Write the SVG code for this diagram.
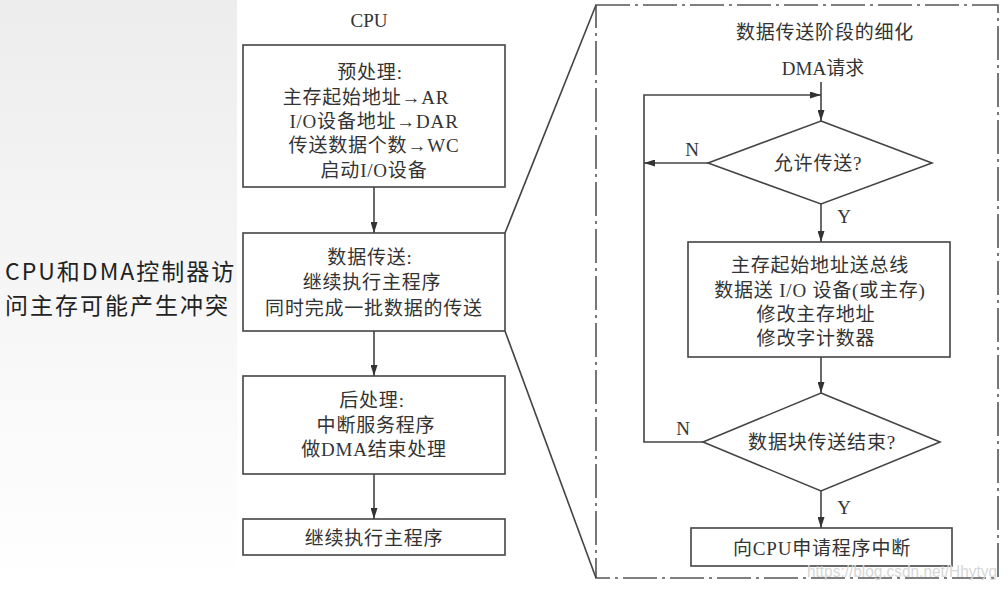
<svg xmlns="http://www.w3.org/2000/svg" width="1008" height="589" viewBox="0 0 1008 589">
<style>
.box{fill:#fff;stroke:#444;stroke-width:1.6}
.ln{fill:none;stroke:#444;stroke-width:1.6}
.t{font-family:"Liberation Serif","Noto Sans CJK SC",serif;font-size:19px;fill:#333;text-anchor:middle;letter-spacing:0.8px}
.lbl{font-family:"Liberation Serif","Noto Sans CJK SC",serif;font-size:19px;fill:#333;text-anchor:middle}
.side{font-family:"Noto Sans CJK SC","Noto Sans",sans-serif;font-size:23px;fill:#222;letter-spacing:2px}
</style>
<defs>
<linearGradient id="bg" x1="0" y1="0" x2="0" y2="1">
<stop offset="0" stop-color="#ededed"/>
<stop offset="1" stop-color="#ffffff"/>
</linearGradient>
<marker id="ah" markerUnits="userSpaceOnUse" markerWidth="11" markerHeight="7" refX="11" refY="3.5" orient="auto">
<path d="M0,0 L11,3.5 L0,7 z" fill="#333"/>
</marker>
</defs>
<rect x="0" y="0" width="1008" height="589" fill="#fff"/>
<rect x="0" y="0" width="237" height="589" fill="url(#bg)"/>

<g id="side-note">
<text class="side" x="5" y="280">CPU和DMA控制器访</text>
<text class="side" x="5" y="314">问主存可能产生冲突</text>
</g>

<g id="cpu-title"><text class="lbl" x="369" y="27">CPU</text></g>

<g id="pre">
<rect class="box" x="243" y="45" width="262" height="142"/>
<text class="t" x="370" y="79">预处理:</text>
<text class="t" x="366" y="104">主存起始地址→AR</text>
<text class="t" x="374" y="128">I/O设备地址→DAR</text>
<text class="t" x="374" y="152">传送数据个数→WC</text>
<text class="t" x="374" y="177">启动I/O设备</text>
</g>

<g id="transfer">
<rect class="box" x="243" y="233" width="262" height="98"/>
<text class="t" x="370" y="264">数据传送:</text>
<text class="t" x="372" y="289">继续执行主程序</text>
<text class="t" x="374" y="315">同时完成一批数据的传送</text>
</g>

<g id="post">
<rect class="box" x="243" y="376" width="262" height="98"/>
<text class="t" x="372" y="407">后处理:</text>
<text class="t" x="376" y="432">中断服务程序</text>
<text class="t" x="374" y="456">做DMA结束处理</text>
</g>

<g id="continue">
<rect class="box" x="243" y="519" width="262" height="36"/>
<text class="t" x="374" y="545">继续执行主程序</text>
</g>

<g id="detail-frame">
<rect x="596" y="5" width="402" height="573" fill="none" stroke="#555" stroke-width="1.6" stroke-dasharray="34 5 3 5"/>
<text class="t" x="825" y="39">数据传送阶段的细化</text>
<text class="lbl" x="823" y="75">DMA请求</text>
</g>

<g id="allow">
<polygon class="box" points="821,121 932,163 821,204 708,163"/>
<text class="t" x="818" y="170">允许传送?</text>
</g>

<g id="ops">
<rect class="box" x="688" y="242" width="262" height="115"/>
<text class="t" x="820" y="272">主存起始地址送总线</text>
<text class="t" x="820" y="297">数据送 I/O 设备(或主存)</text>
<text class="t" x="816" y="321">修改主存地址</text>
<text class="t" x="816" y="345">修改字计数器</text>
</g>

<g id="done">
<polygon class="box" points="821,393 940,442 821,491 703,442"/>
<text class="t" x="822" y="449">数据块传送结束?</text>
</g>

<g id="irq">
<rect class="box" x="691" y="528" width="261" height="38"/>
<text class="t" x="822" y="555">向CPU申请程序中断</text>
</g>

<g id="connectors">
<line class="ln" x1="374" y1="187" x2="374" y2="233" marker-end="url(#ah)"/>
<line class="ln" x1="374" y1="331" x2="374" y2="376" marker-end="url(#ah)"/>
<line class="ln" x1="374" y1="474" x2="374" y2="519" marker-end="url(#ah)"/>
<line class="ln" x1="505" y1="233" x2="596" y2="5"/>
<line class="ln" x1="505" y1="331" x2="596" y2="578"/>
<line class="ln" x1="821" y1="82" x2="821" y2="121" marker-end="url(#ah)"/>
<path class="ln" d="M703,442 H644 V95 H821" marker-end="url(#ah)"/>
<line class="ln" x1="708" y1="163" x2="644" y2="163" marker-end="url(#ah)"/>
<line class="ln" x1="821" y1="204" x2="821" y2="242" marker-end="url(#ah)"/>
<line class="ln" x1="821" y1="357" x2="821" y2="393" marker-end="url(#ah)"/>
<line class="ln" x1="821" y1="491" x2="821" y2="528" marker-end="url(#ah)"/>
<text class="lbl" x="692" y="156">N</text>
<text class="lbl" x="844" y="223">Y</text>
<text class="lbl" x="683" y="435">N</text>
<text class="lbl" x="844" y="514">Y</text>
</g>

<g id="watermark">
<text x="807" y="577" font-family="Liberation Sans, sans-serif" font-size="16" fill="#d6d6d6" textLength="190" lengthAdjust="spacingAndGlyphs">https://blog.csdn.net/Hhytyg</text>
</g>
</svg>
